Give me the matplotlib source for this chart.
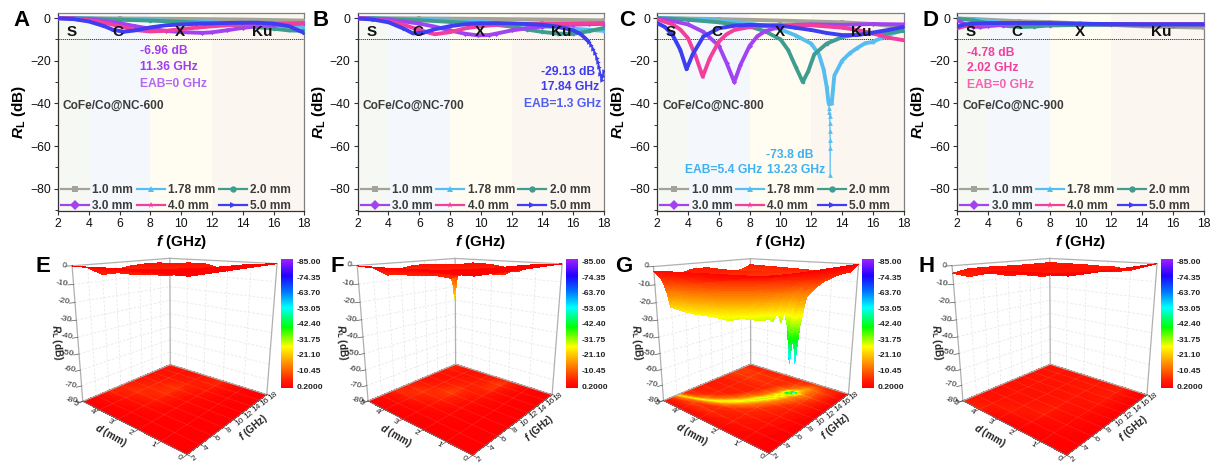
import numpy as np
import matplotlib
matplotlib.use("Agg")
import matplotlib.pyplot as plt
from matplotlib.colors import LinearSegmentedColormap, Normalize
from matplotlib.cm import ScalarMappable
from matplotlib.lines import Line2D
from matplotlib.ticker import MultipleLocator

plt.rcParams.update({
    "font.family": ["Liberation Sans", "DejaVu Sans"],
    "mathtext.fontset": "custom",
    "mathtext.rm": "Liberation Sans",
    "mathtext.it": "Liberation Sans:italic",
    "mathtext.bf": "Liberation Sans:bold",
    "mathtext.bfit": "Liberation Sans:italic:bold",
})

W, H = 1220, 463

# ---------- reflection-loss curves (f in GHz, RL in dB) ----------
A_10_f = [2, 6, 10, 14, 18]
A_10_rl = [0, -0.2, -0.4, -0.7, -1.2]
A_178_f = [2, 4, 6, 8, 10, 12, 14, 16, 18]
A_178_rl = [0, -0.2, -0.6, -1, -1.4, -2, -2.8, -3.5, -4.2]
A_20_f = [2, 4, 6, 8, 10, 12, 14, 16, 17, 18]
A_20_rl = [0, -0.3, -0.8, -1.2, -1.7, -2.5, -3.6, -5, -5.8, -6]
A_30_f = [2, 3, 4, 5, 6, 7, 8, 9, 10, 11.36, 12, 13, 14, 15, 16, 17, 18]
A_30_rl = [0, -0.2, -0.6, -1.3, -2.4, -3.8, -5, -6, -6.6, -6.96, -6.7, -5.7, -4.6, -3.8, -3.2, -2.8, -2.5]
A_40_f = [2, 3, 4, 5, 6, 7, 8, 9, 10, 11, 12, 13, 14, 15, 16, 17, 18]
A_40_rl = [-0.05, -0.3, -1, -2.2, -3.8, -5.6, -6.3, -6, -5.2, -4.5, -3.9, -3.4, -3, -2.8, -2.6, -2.5, -2.4]
A_50_f = [2, 3, 4, 5, 5.6, 6.3, 7, 8, 9, 10, 11, 12, 13, 14, 15, 16, 17, 18]
A_50_rl = [-0.1, -0.5, -1.6, -3.8, -5.6, -6.4, -5.8, -4.4, -3.4, -3, -2.7, -2.5, -2.3, -2.2, -2.2, -2.6, -3.8, -7]

B_10_f = [2, 6, 10, 14, 18]
B_10_rl = [0, -0.2, -0.4, -0.7, -1.1]
B_178_f = [2, 4, 6, 8, 10, 12, 14, 16, 18]
B_178_rl = [0, -0.3, -0.8, -1.2, -1.8, -2.8, -3.8, -5, -6]
B_20_f = [2, 4, 6, 8, 10, 12, 13, 14, 15, 16, 17, 18]
B_20_rl = [0, -0.4, -1, -1.8, -2.5, -4, -5.4, -6.5, -7.3, -7.4, -6.2, -4.6]
B_30_f = [2, 3, 4, 5, 6, 7, 8, 9, 9.8, 10.5, 11, 12, 13, 14, 15, 16, 17, 18]
B_30_rl = [0, -0.3, -0.8, -1.6, -2.6, -4, -5.8, -7.4, -8.1, -8, -7.3, -5.8, -4.8, -4, -3.5, -3.1, -2.9, -2.7]
B_40_f = [2, 3, 4, 5, 6, 7, 8, 9, 10, 11, 12, 13, 14, 16, 18]
B_40_rl = [-0.1, -0.5, -1.5, -3.2, -5.6, -7.6, -6.6, -4.8, -3.8, -3.2, -2.9, -2.7, -2.6, -2.6, -2.4]
B_50_f = [2, 3, 4, 5, 5.6, 6.3, 7, 8, 9, 10, 11, 12, 13, 14, 15, 16, 16.5, 17]
B_50_rl = [-0.2, -0.7, -2, -5, -7.2, -6.8, -5.3, -3.8, -2.9, -2.5, -2.4, -2.5, -2.8, -3.2, -4, -5.8, -7.6, -11]
B_tail_f = [17, 17.15, 17.3, 17.42, 17.52, 17.6, 17.68, 17.76, 17.84, 17.92, 18]
B_tail_rl = [-11, -12.5, -14.5, -16.5, -18.5, -20.5, -23, -26, -29.13, -27, -25]

C_10_f = [2, 6, 10, 14, 16, 18]
C_10_rl = [0, -0.5, -1.2, -2, -2.8, -4.5]
C_178_f = [2, 4, 6, 8, 9, 10, 11, 12, 12.5, 12.8, 13, 13.13, 13.33, 13.5, 14, 14.5, 15, 15.5, 16, 16.5, 17, 18]
C_178_rl = [0, -0.4, -1.2, -2.6, -3.6, -5.3, -8.2, -12, -17, -24, -32, -40, -40, -27, -20, -16.5, -14, -11.8, -11.2, -9.5, -8, -5.5]
C_20_f = [2, 4, 6, 8, 9, 10, 10.5, 11, 11.45, 11.8, 12.2, 13, 14, 15, 16, 17, 18]
C_20_rl = [0, -0.8, -2, -4, -6.2, -10, -15, -23, -30, -25, -17, -12, -9, -7.6, -7.2, -7, -6]
C_30_f = [2, 3, 4, 5, 6, 6.5, 7, 7.4, 8, 8.5, 9, 10, 11, 12, 14, 16, 18]
C_30_rl = [-0.3, -1.4, -3, -6.5, -13, -21, -30, -22, -13, -8.5, -6.2, -4, -3.2, -3, -3.2, -2.8, -3]
C_40_f = [2, 3, 3.5, 4, 4.5, 4.95, 5.4, 6, 6.5, 7, 8, 9, 10, 12, 14, 15, 16, 17, 18]
C_40_rl = [-0.6, -3, -5.4, -9.5, -18, -27.5, -19, -11, -7.6, -5.6, -4.2, -3.6, -3.3, -3.4, -4.5, -5.6, -7.2, -9.2, -10.4]
C_50_f = [2, 2.5, 3, 3.5, 3.9, 4.3, 5, 6, 7, 8, 10, 11, 12, 13, 14, 15, 16, 17, 18]
C_50_rl = [-2.4, -4.2, -8, -15, -24, -17, -8.6, -4.8, -3.6, -3.2, -3.6, -4.6, -5.6, -7, -8, -8, -6.8, -5.6, -4.2]
C_tail_f = [13.13, 13.16, 13.18, 13.2, 13.21, 13.22, 13.23, 13.23, 13.23]
C_tail_rl = [-40, -42, -44, -46, -49, -53, -57, -61, -73.8]

D_10_f = [2, 3, 4, 6, 8, 10, 12, 14, 16, 18]
D_10_rl = [-0.3, -0.4, -0.8, -1.5, -1.9, -2.5, -3.2, -3.9, -4.2, -4.5]
D_178_f = [2, 4, 5, 6, 8, 10, 14, 18]
D_178_rl = [-0.2, -1.3, -2.4, -3, -3, -3, -3, -3]
D_20_f = [2, 3, 4, 5, 6, 7, 8, 10, 12, 14, 16, 18]
D_20_rl = [-0.3, -1, -2.4, -3.6, -4.2, -4, -3.5, -3.2, -3.2, -3.4, -3.5, -3.4]
D_30_f = [2, 2.5, 3, 3.5, 4, 5, 6, 8, 10, 12, 18]
D_30_rl = [-1, -3, -4, -4.2, -3.8, -3.2, -2.9, -2.6, -2.8, -3, -3]
D_40_f = [2.02, 2.5, 3, 4, 6, 8, 10, 14, 18]
D_40_rl = [-4.78, -3.8, -3.2, -2.8, -2.4, -2.6, -2.8, -2.9, -2.9]
D_50_f = [2, 2.5, 3, 4, 6, 8, 10, 14, 18]
D_50_rl = [-4, -3, -2.6, -2.4, -2.3, -2.4, -2.7, -2.9, -2.9]

thickness_labels = ["1.0 mm", "1.78 mm", "2.0 mm", "3.0 mm", "4.0 mm", "5.0 mm"]
series_colors = ["#a3a398", "#55bdf0", "#3f9d90", "#a243f2", "#f23f9e", "#3d3df2"]
series_markers = ["s", "^", "o", "D", "*", ">"]
band_edges = [2, 4, 8, 12, 18]
band_colors = ["#f6f9f3", "#f4f8fc", "#fffdf2", "#fcf6f0"]
band_names = ["S", "C", "X", "Ku"]
band_label_f = [2.9, 5.9, 9.95, 15.25]

panel_curves = {
    "A": [(A_10_f, A_10_rl), (A_178_f, A_178_rl), (A_20_f, A_20_rl), (A_30_f, A_30_rl), (A_40_f, A_40_rl), (A_50_f, A_50_rl)],
    "B": [(B_10_f, B_10_rl), (B_178_f, B_178_rl), (B_20_f, B_20_rl), (B_30_f, B_30_rl), (B_40_f, B_40_rl), (B_50_f, B_50_rl)],
    "C": [(C_10_f, C_10_rl), (C_178_f, C_178_rl), (C_20_f, C_20_rl), (C_30_f, C_30_rl), (C_40_f, C_40_rl), (C_50_f, C_50_rl)],
    "D": [(D_10_f, D_10_rl), (D_178_f, D_178_rl), (D_20_f, D_20_rl), (D_30_f, D_30_rl), (D_40_f, D_40_rl), (D_50_f, D_50_rl)],
}
panel_left = {"A": 58, "B": 357.7, "C": 657.3, "D": 957.3}
sample_names = {"A": "CoFe/Co@NC-600", "B": "CoFe/Co@NC-700", "C": "CoFe/Co@NC-800", "D": "CoFe/Co@NC-900"}
sample_x = {"A": 2.3, "B": 2.34, "C": 2.35, "D": 2.35}
notes = {
    "A": [("-6.96 dB", 7.33, -15.5, "left", "#a03df0"), ("11.36 GHz", 7.33, -22.8, "left", "#a03df0"), ("EAB=0 GHz", 7.33, -31, "left", "#b268f2")],
    "B": [("-29.13 dB", 17.4, -25.5, "right", "#3d3df2"), ("17.84 GHz", 17.7, -32.5, "right", "#3d3df2"), ("EAB=1.3 GHz", 17.8, -40.3, "right", "#5060f4")],
    "C": [("-73.8 dB", 9.04, -64, "left", "#3fb0f0"), ("13.23 GHz", 9.1, -71.2, "left", "#3fb0f0"), ("EAB=5.4 GHz", 3.8, -71.2, "left", "#3fb0f0")],
    "D": [("-4.78 dB", 2.6, -16.3, "left", "#f23f9e"), ("2.02 GHz", 2.6, -23.6, "left", "#f23f9e"), ("EAB=0 GHz", 2.65, -31.4, "left", "#f563b0")],
}

# ---------- RL(d, f) surfaces ----------
E_f = [2, 4, 6, 8, 10, 12, 14, 16, 18]
E_d = [0, 1, 1.78, 2, 3, 4, 5]
E_rl = [[0, 0, 0, 0, 0, 0, 0, 0, 0],
        [0, -0.1, -0.2, -0.3, -0.4, -0.5, -0.7, -0.9, -1.2],
        [0, -0.2, -0.6, -1, -1.4, -2, -2.8, -3.5, -4.2],
        [0, -0.3, -0.8, -1.2, -1.7, -2.5, -3.6, -5, -6],
        [0, -0.6, -2.4, -5, -6.6, -6.7, -4.6, -3.2, -2.5],
        [-0.05, -1, -3.8, -6.3, -5.2, -3.9, -3, -2.6, -2.4],
        [-0.1, -1.6, -6.4, -4.4, -3, -2.5, -2.2, -2.6, -7]]

F_f = [2, 4, 6, 8, 10, 12, 14, 16, 17, 17.5, 17.84, 18]
F_d = [0, 1, 1.78, 2, 3, 4, 4.8, 5]
F_rl = [[0, 0, 0, 0, 0, 0, 0, 0, 0, 0, 0, 0],
        [0, -0.1, -0.2, -0.3, -0.4, -0.5, -0.7, -0.9, -1, -1.1, -1.2, -1.2],
        [0, -0.3, -0.8, -1.2, -1.8, -2.8, -3.8, -5, -5.5, -5.8, -6, -6],
        [0, -0.4, -1, -1.8, -2.5, -4, -6.5, -7.4, -6.2, -5.4, -4.8, -4.6],
        [0, -0.8, -2.6, -5.8, -8, -5.8, -4, -3.1, -2.9, -2.8, -2.7, -2.7],
        [-0.1, -1.5, -5.6, -6.6, -3.8, -2.9, -2.6, -2.6, -2.5, -2.4, -2.4, -2.4],
        [-0.2, -1.9, -6, -4.4, -2.8, -2.6, -3, -4.6, -6, -6.5, -7, -6.5],
        [-0.2, -2, -6.8, -3.8, -2.5, -2.5, -3.2, -5.8, -11, -18, -29.13, -25]]

H_f = [2, 4, 6, 8, 10, 12, 14, 16, 18]
H_d = [0, 1, 1.78, 2, 3, 4, 5]
H_rl = [[0, 0, 0, 0, 0, 0, 0, 0, 0],
        [-0.3, -0.8, -1.5, -1.9, -2.5, -3.2, -3.9, -4.2, -4.5],
        [-0.2, -1.3, -3, -3, -3, -3, -3, -3, -3],
        [-0.3, -2.4, -4.2, -3.5, -3.2, -3.2, -3.4, -3.5, -3.4],
        [-1, -3.8, -2.9, -2.6, -2.8, -3, -3, -3, -3],
        [-4.78, -2.8, -2.4, -2.6, -2.8, -2.9, -2.9, -2.9, -2.9],
        [-4, -2.4, -2.3, -2.4, -2.7, -2.9, -2.9, -2.9, -2.9]]

# G follows the matching-thickness arc: each row is a fixed offset from the arc
G_f = [2, 3, 3.5, 3.9, 4.5, 5, 6, 7, 8, 9, 10, 10.5, 11, 11.5, 12, 12.5, 12.8, 13, 13.23, 13.5, 13.9, 14.2, 14.5, 15, 16, 17, 18]
G_arc_d = [6.5, 5.6, 5.25, 5, 4.4, 4, 3.4, 3, 2.7, 2.45, 2.25, 2.15, 2.05, 2, 1.93, 1.86, 1.82, 1.8, 1.78, 1.72, 1.67, 1.63, 1.58, 1.5, 1.38, 1.28, 1.2]
G_offsets = [-9, -0.9, -0.4, -0.17, 0, 0.17, 0.4, 0.9, 9]
G_rl_by_f = [
    [0, -2.4, -2.4, -2.4, -2.4, -2.4, -2.4, -2.4, -2.4],
    [0, -6, -8, -8, -8, -8, -8, -8, -8],
    [0, -8, -13, -15, -15, -15, -15, -15, -15],
    [0, -9, -14, -20, -24, -24, -24, -24, -24],
    [0, -7, -14, -20, -26, -20, -13, -9, -9],
    [0, -7, -14, -21, -27, -21, -12, -6, -7],
    [0, -7, -14, -22, -28, -22, -13, -6, -4.8],
    [0, -7, -14, -22, -30, -23, -13, -5.6, -3.6],
    [0, -7, -14, -22, -29, -22, -12, -5, -3.2],
    [0, -7, -14, -23, -30, -23, -13, -5, -3.3],
    [0, -7, -15, -24, -31, -24, -13, -5, -3.6],
    [0, -7, -15, -23, -30, -22, -12, -5, -4],
    [0, -8, -15, -25, -32, -25, -13, -5, -4.6],
    [0, -8, -15, -22, -27, -20, -12, -5, -5],
    [0, -8, -16, -26, -33, -25, -13, -5, -5.6],
    [0, -8, -15, -21, -26, -21, -12, -5, -6.3],
    [0, -8, -15, -26, -36, -25, -13, -6, -6.8],
    [0, -9, -16, -26, -36, -25, -12, -6, -7],
    [0, -9, -18, -36, -60, -30, -14, -6, -7.2],
    [0, -8, -15, -25, -36, -24, -13, -6, -7.6],
    [0, -9, -18, -36, -60, -30, -14, -6, -7.8],
    [0, -8, -14, -21, -30, -21, -12, -6, -8],
    [0, -7, -13, -19, -25, -19, -11, -6, -8],
    [0, -7, -12, -16, -20, -16, -11, -6, -8],
    [0, -6, -10, -13, -15, -13, -9, -6, -6.8],
    [0, -5, -7, -9, -10, -9, -7, -5.5, -5.6],
    [0, -5, -5, -5.5, -6, -6, -5.5, -5, -4.2],
]

cbar_ticks = [-85, -74.35, -63.7, -53.05, -42.4, -31.75, -21.1, -10.45, 0.2]
cbar_labels = ["-85.00", "-74.35", "-63.70", "-53.05", "-42.40", "-31.75", "-21.10", "-10.45", "0.2000"]
cmap_values = [-85, -74, -64, -53, -40, -27, -21, -5, 0.2]
cmap_colors = ["#a020ff", "#2000ff", "#0070ff", "#00ffff", "#00ff00", "#ffff00", "#ffc000", "#ff2000", "#ff0000"]
z_ticks = [0, -10, -20, -30, -40, -50, -60, -70, -80]
f_ticks = [2, 4, 6, 8, 10, 12, 14, 16, 18]
d_ticks = [0, 1, 2, 3, 4, 5]

# pixel positions of the 3D box corners: (f, d, z) -> (x, y)
cube_points = [(2, 0, -80), (2, 5, -80), (18, 0, -80), (18, 5, -80), (18, 5, 0), (2, 5, 0), (18, 0, 0), (2, 0, 0)]
E_corners = [(187, 455), (83, 401), (267, 394), (170, 365), (170, 258), (72, 266), (277, 264), (189, 276)]
F_corners = [(473, 456), (368, 400), (552, 394), (455.5, 365), (455.5, 258), (357, 266), (562, 264), (474, 276)]
G_corners = [(770, 454), (663, 399), (848, 394), (751, 365), (751, 258), (653, 268), (858, 264), (772, 277)]
H_corners = [(1067, 456), (963, 400), (1147, 394), (1050, 365), (1050, 258), (952, 266), (1157, 264), (1068, 276)]

fig = plt.figure(figsize=(W / 100, H / 100), dpi=100)

cvals = (np.array(cmap_values) + 85) / 85.2
rl_cmap = LinearSegmentedColormap.from_list("rl", list(zip(cvals, cmap_colors)), N=512)
rl_norm = Normalize(-85, 0.2)
cbar_norm = Normalize(-86.7, 1.5)

# ---------- top row ----------
TEXT = "#3c3c3c"
for name, left in panel_left.items():
    ax = fig.add_axes([left / W, 1 - 210.7 / H, 246.3 / W, 198 / H])
    ax.set_xlim(2, 18)
    ax.set_ylim(-90.3, 2.5)
    for i in range(4):
        ax.axvspan(band_edges[i], band_edges[i + 1], color=band_colors[i], lw=0, zorder=0)
        ax.text(band_label_f[i], -6.6, band_names[i], fontsize=11, fontweight="bold", ha="center", va="center", color="#111111", zorder=6)
    ax.axhline(-10, color="#222222", lw=0.6, ls=(0, (1.5, 1)), zorder=1)
    handles = []
    for (fx, rl), col, mk, lab in zip(panel_curves[name], series_colors, series_markers, thickness_labels):
        ax.plot(fx, rl, color=col, lw=2.8, marker=mk, ms=2.6, mew=0, solid_capstyle="round", zorder=3)
        handles.append(Line2D([], [], color=col, lw=1.6, marker=mk, ms=4.6, mew=0, label=lab))
    if name == "B":
        ax.plot(B_tail_f, B_tail_rl, color=series_colors[5], lw=1.3, marker=">", ms=3.2, mew=0, zorder=4)
    if name == "C":
        ax.plot(C_tail_f, C_tail_rl, color=series_colors[1], lw=0.9, marker="^", ms=3.4, mew=0, zorder=4)
    order = [0, 3, 1, 4, 2, 5]
    ax.legend([handles[i] for i in order], [thickness_labels[i] for i in order], ncol=3, loc="lower left",
              bbox_to_anchor=(0.012, -0.008), frameon=False, borderpad=0, borderaxespad=0,
              handlelength=2.35, handletextpad=0.28, columnspacing=0.28, labelspacing=0.34,
              prop={"size": 8.6, "weight": "bold"}, labelcolor=TEXT)
    ax.text(sample_x[name], -41, sample_names[name], fontsize=8.6, fontweight="bold", color=TEXT, va="center", ha="left", zorder=6)
    for s, x, y, ha, col in notes[name]:
        ax.text(x, y, s, fontsize=8.7, fontweight="bold", color=col, ha=ha, va="center", zorder=6)
    ax.xaxis.set_major_locator(MultipleLocator(2))
    ax.yaxis.set_major_locator(MultipleLocator(20))
    ax.yaxis.set_minor_locator(MultipleLocator(10))
    ax.tick_params(axis="both", which="major", labelsize=8.8, length=3.2, width=0.8, pad=2, color="#333333", labelcolor="#111111")
    ax.tick_params(axis="y", which="minor", length=2, width=0.7, color="#333333")
    for side in ("left", "bottom"):
        ax.spines[side].set_color("#333333")
        ax.spines[side].set_linewidth(0.9)
    for side in ("top", "right"):
        ax.spines[side].set_color("#808080")
        ax.spines[side].set_linewidth(0.9)
    ax.set_ylabel(r"$\mathbfit{R}_{\mathbf{L}}$ (dB)", fontsize=11, fontweight="bold", labelpad=0)
    ax.yaxis.set_label_coords(-30 / 246.3, 0.5)
    ax.set_xlabel(r"$\mathbfit{f}$ (GHz)", fontsize=11, fontweight="bold", labelpad=0)
    ax.xaxis.set_label_coords(0.5, -22 / 198)


# ---------- bottom row ----------
def solve_projection(corners):
    """Projective camera through the eight box corners (pixel y measured upward)."""
    T = np.array([[1 / 8, 0, 0, -10 / 8], [0, 1 / 2.5, 0, -1], [0, 0, 1 / 40, 1], [0, 0, 0, 1.0]])
    A = []
    for (fv, dv, zv), (px, py) in zip(cube_points, corners):
        X = T @ np.array([fv, dv, zv, 1.0])
        u, v = px / 100, (H - py) / 100
        A.append(np.r_[X, 0, 0, 0, 0, -u * X])
        A.append(np.r_[0, 0, 0, 0, X, -v * X])
    P = np.linalg.svd(np.array(A))[2][-1].reshape(3, 4)
    if P[2, 3] < 0:
        P = -P
    P[:2] *= 100
    P = P @ T
    return np.array([P[0], P[1], [0, 0, 0, -1.0], P[2]])


def refine(table, k):
    table = np.asarray(table, float)
    for axis in (0, 1):
        n = table.shape[axis]
        idx = np.arange((n - 1) * k + 1) / k
        lo = np.minimum(idx.astype(int), n - 2)
        t = idx - lo
        shape = [1, 1]
        shape[axis] = -1
        t = t.reshape(shape)
        table = np.take(table, lo, axis=axis) * (1 - t) + np.take(table, lo + 1, axis=axis) * t
    return table


def draw_3d(letter, corners, X, Y, Z, k, cb_left, letter_xy):
    x0, y0, S = corners[5][0] - 22, 230, 235
    ax = fig.add_axes([x0 / W, 1 - (y0 + S) / H, S / W, S / H], projection="3d", computed_zorder=False)
    M = solve_projection(corners)
    ax.set_proj_type("ortho")
    ax.get_proj = lambda: M
    ax.set_axis_off()
    ax.patch.set_visible(False)
    ax.viewLim.intervalx = (x0, x0 + S)
    ax.viewLim.intervaly = (H - y0 - S, H - y0)

    def project(f, d, z):
        v = M @ np.array([f, d, z, 1.0])
        return v[0] / v[3], v[1] / v[3]

    def label(f, d, z, s, direction=None, rotation=0, **kw):
        x, y = project(f, d, z)
        if direction is not None:
            x2, y2 = project(f + direction[0], d + direction[1], z + direction[2])
            rotation = np.degrees(np.arctan2(y2 - y, x2 - x))
        ax.text2D(x, y, s, transform=ax.transData, rotation=rotation, rotation_mode="anchor", **kw)

    wall = dict(color="#e8e8e8", lw=0.6, ls=(0, (3, 2)), zorder=1)
    for z in z_ticks[1:-1]:
        ax.plot([2, 18], [5, 5], [z, z], **wall)
        ax.plot([18, 18], [5, 0], [z, z], **wall)
    for f in f_ticks[1:-1]:
        ax.plot([f, f], [5, 5], [-80, 0], **wall)
    for d in d_ticks[1:-1]:
        ax.plot([18, 18], [d, d], [-80, 0], **wall)

    Xf, Yf, Zf = refine(X, k), refine(Y, k), refine(Z, k)
    ax.plot_surface(Xf, Yf, np.full_like(Zf, -80.0), facecolors=rl_cmap(rl_norm(Zf)), rstride=1, cstride=1,
                    shade=False, linewidth=0, antialiased=False, zorder=2)
    floor = dict(color="#ffffff", lw=0.4, alpha=0.14, zorder=3)
    for f in f_ticks[1:-1]:
        ax.plot([f, f], [0, 5], [-80, -80], **floor)
    for d in d_ticks[1:-1]:
        ax.plot([2, 18], [d, d], [-80, -80], **floor)

    edge = dict(color="#b0b0b0", lw=0.9, zorder=4)
    ax.plot([18, 18], [5, 5], [-80, 0], **edge)
    ax.plot([2, 2], [5, 5], [-80, 0], **edge)
    ax.plot([18, 18], [0, 0], [-80, 0], **edge)
    ax.plot([2, 18], [5, 5], [0, 0], **edge)
    ax.plot([18, 18], [5, 0], [0, 0], **edge)
    ax.plot([2, 18], [5, 5], [-80, -80], **edge)
    ax.plot([18, 18], [5, 0], [-80, -80], **edge)
    ax.plot([2, 2], [0, 5], [-80, -80], color="#777777", lw=0.7, zorder=4)
    ax.plot([2, 18], [0, 0], [-80, -80], color="#777777", lw=0.7, zorder=4)

    k2 = max(k, 6)
    Xs, Ys, Zs = refine(X, k2), refine(Y, k2), refine(Z, k2)
    ax.plot_surface(Xs, Ys, Zs, facecolors=rl_cmap(rl_norm(Zs)), rstride=1, cstride=1,
                    shade=False, linewidth=0, antialiased=False, zorder=5)

    tick = dict(color="#555555", lw=0.5, zorder=4)
    lab = dict(fontsize=6.0, color="#222222", zorder=6)
    for z in z_ticks:
        ax.plot([2, 1.4], [5, 5.05], [z, z], **tick)
        label(1.6, 5.12, z, str(z), rotation=-8, ha="right", va="center", **lab)
    for d in d_ticks:
        ax.plot([2, 1.4], [d, d], [-80, -80], **tick)
        label(1.15, d + 0.06, -80, str(d), direction=(0, -1, 0), ha="center", va="center", **lab)
    for f in f_ticks:
        ax.plot([f, f], [0, -0.12], [-80, -80], **tick)
        label(f, -0.25, -80, str(f), direction=(1, 0, 0), ha="center", va="center", **lab)
    axl = dict(fontsize=7.2, fontweight="bold", color="#222222", ha="center", va="center", zorder=6)
    label(-0.6, 2.4, -80, r"$\mathbfit{d}$ (mm)", direction=(0, -1, 0), **axl)
    label(10, -0.75, -80, r"$\mathbfit{f}$ (GHz)", direction=(1, 0, 0), **axl)
    label(2, 6.5, -48, r"$\mathbfit{R}_{\mathbf{L}}$ (dB)", direction=(0, 0, -1), **axl)

    cax = fig.add_axes([cb_left / W, 1 - 388 / H, 11.5 / W, 129 / H])
    cb = fig.colorbar(ScalarMappable(norm=cbar_norm, cmap=rl_cmap), cax=cax, ticks=cbar_ticks)
    cax.invert_yaxis()
    cb.set_ticklabels(cbar_labels)
    cb.outline.set_visible(False)
    cax.tick_params(length=0, pad=3, labelsize=6.1, labelcolor="#222222")
    for t in cax.get_yticklabels():
        t.set_fontweight("bold")
    fig.text(letter_xy[0] / W, 1 - letter_xy[1] / H, letter, fontsize=16, fontweight="bold", ha="center", va="center", color="#000000")


def regular_mesh(fv, dv):
    Xg, Yg = np.meshgrid(np.array(fv, float), np.array(dv, float))
    return Xg, Yg


Xe, Ye = regular_mesh(E_f, E_d)
draw_3d("E", E_corners, Xe, Ye, E_rl, 4, 281, (43, 266))
Xe, Ye = regular_mesh(F_f, F_d)
draw_3d("F", F_corners, Xe, Ye, F_rl, 4, 566, (337, 266))
G_rl = np.array(G_rl_by_f).T
Xg = np.tile(np.array(G_f, float), (len(G_offsets), 1))
Yg = np.clip(np.array(G_arc_d, float)[None, :] + np.array(G_offsets)[:, None], 0, 5)
draw_3d("G", G_corners, Xg, Yg, G_rl, 7, 862, (624, 267))
Xe, Ye = regular_mesh(H_f, H_d)
draw_3d("H", H_corners, Xe, Ye, H_rl, 4, 1161, (927, 266))

for letter, xy in {"A": (22, 21), "B": (321, 21), "C": (627, 21), "D": (930, 21)}.items():
    fig.text(xy[0] / W, 1 - xy[1] / H, letter, fontsize=16, fontweight="bold", ha="center", va="center", color="#000000")

fig.savefig("out.png", dpi=100)
